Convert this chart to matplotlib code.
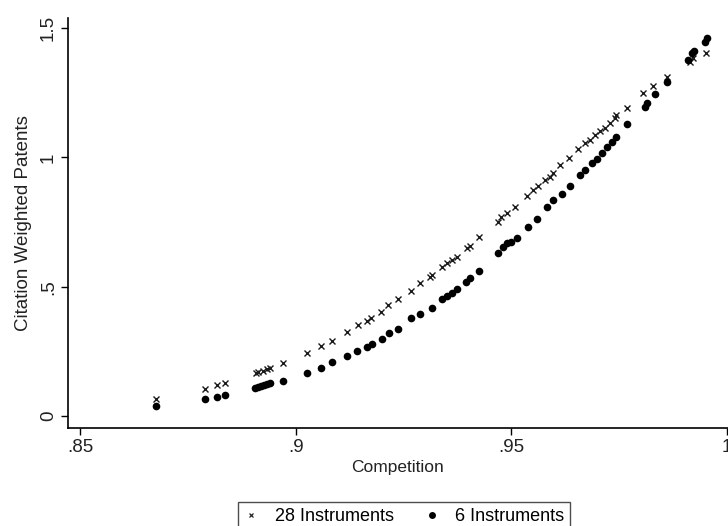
import matplotlib
matplotlib.use("Agg")
import matplotlib.pyplot as plt
from matplotlib.lines import Line2D

plt.rcParams['font.family'] = ['Liberation Sans', 'DejaVu Sans']

# competition index vs. predicted citation weighted patents
comp_28 = [0.8676, 0.8790, 0.8818, 0.8836, 0.8908, 0.8913, 0.8924, 0.8934, 0.8940,
           0.8971, 0.9026, 0.9059, 0.9084, 0.9119, 0.9144, 0.9165, 0.9175, 0.9198,
           0.9214, 0.9237, 0.9267, 0.9288, 0.9311, 0.9316, 0.9339, 0.9351, 0.9362,
           0.9374, 0.9397, 0.9404, 0.9425, 0.9469, 0.9476, 0.9490, 0.9508, 0.9536,
           0.9550, 0.9562, 0.9578, 0.9589, 0.9596, 0.9613, 0.9634, 0.9654, 0.9671,
           0.9682, 0.9694, 0.9705, 0.9717, 0.9729, 0.9740, 0.9742, 0.9768, 0.9805,
           0.9828, 0.9861, 0.9914, 0.9921, 0.9951]
cwp_28 = [0.066, 0.104, 0.120, 0.128, 0.166, 0.170, 0.174, 0.182, 0.186,
          0.205, 0.244, 0.271, 0.290, 0.325, 0.352, 0.367, 0.379, 0.402,
          0.429, 0.452, 0.483, 0.514, 0.537, 0.545, 0.576, 0.592, 0.603,
          0.615, 0.650, 0.657, 0.692, 0.750, 0.769, 0.785, 0.808, 0.851,
          0.874, 0.889, 0.912, 0.924, 0.939, 0.970, 0.997, 1.032, 1.055,
          1.067, 1.086, 1.102, 1.113, 1.133, 1.152, 1.164, 1.191, 1.249,
          1.276, 1.311, 1.369, 1.384, 1.403]

comp_6 = [0.8676, 0.8790, 0.8818, 0.8836, 0.8906, 0.8913, 0.8920, 0.8927, 0.8934,
          0.8940, 0.8971, 0.9026, 0.9059, 0.9084, 0.9119, 0.9142, 0.9165, 0.9177,
          0.9200, 0.9216, 0.9237, 0.9267, 0.9288, 0.9316, 0.9339, 0.9351, 0.9362,
          0.9374, 0.9395, 0.9404, 0.9425, 0.9469, 0.9481, 0.9490, 0.9499, 0.9513,
          0.9538, 0.9559, 0.9583, 0.9596, 0.9617, 0.9636, 0.9659, 0.9671, 0.9687,
          0.9698, 0.9710, 0.9722, 0.9733, 0.9742, 0.9768, 0.9810, 0.9814, 0.9833,
          0.9861, 0.9909, 0.9919, 0.9923, 0.9949, 0.9953]
cwp_6 = [0.039, 0.066, 0.073, 0.081, 0.108, 0.112, 0.116, 0.120, 0.124,
         0.128, 0.135, 0.166, 0.186, 0.209, 0.232, 0.251, 0.267, 0.278,
         0.298, 0.321, 0.336, 0.379, 0.394, 0.418, 0.452, 0.464, 0.476,
         0.491, 0.518, 0.534, 0.561, 0.630, 0.653, 0.669, 0.672, 0.688,
         0.731, 0.762, 0.808, 0.835, 0.858, 0.889, 0.932, 0.951, 0.978,
         0.994, 1.017, 1.040, 1.059, 1.079, 1.129, 1.195, 1.210, 1.245,
         1.291, 1.376, 1.403, 1.411, 1.446, 1.461]

xticks = [0.85, 0.90, 0.95, 1.0]
xtick_labels = ['.85', '.9', '.95', '1']
yticks = [0, 0.5, 1.0, 1.5]
ytick_labels = ['0', '.5', '1', '1.5']

fig = plt.figure(figsize=(7.28, 5.26), dpi=100)
ax = fig.add_axes([0.0934, 0.1863, 0.9066, 0.7795])

ax.plot(comp_28, cwp_28, linestyle='none', marker='x', markersize=4,
        markeredgewidth=1.0, color='#1a1a1a')
ax.plot(comp_6, cwp_6, linestyle='none', marker='o', markersize=5.5,
        color='black', markeredgewidth=0)

ax.set_xlim(0.8472, 1.0002)
ax.set_ylim(-0.046, 1.539)
ax.set_xticks(xticks)
ax.set_xticklabels(xtick_labels)
ax.set_yticks(yticks)
ax.set_yticklabels(ytick_labels, rotation=90, va='center')
ax.tick_params(axis='both', length=5, width=1, color='black', labelsize=13.5,
               labelcolor='#222222', pad=3)

for side in ['top', 'right']:
    ax.spines[side].set_visible(False)
for side in ['left', 'bottom']:
    ax.spines[side].set_linewidth(1.2)
    ax.spines[side].set_color('black')

ax.set_xlabel('Competition', fontsize=12.5, color='#222222', labelpad=3)
ax.set_ylabel('Citation Weighted Patents', fontsize=13.5, color='#222222', labelpad=6)

handles = [
    Line2D([], [], linestyle='none', marker='x', markersize=3, markeredgewidth=0.9,
           color='#222222'),
    Line2D([], [], linestyle='none', marker='o', markersize=5, color='black',
           markeredgewidth=0),
]
# legend box sits at the bottom edge; its lower border falls outside the figure
leg = fig.legend(handles, ['28 Instruments', '6 Instruments'], ncol=2,
                 loc='upper center', bbox_to_anchor=(0.555, 1 - 502 / 526),
                 borderaxespad=0, frameon=True, fancybox=False, fontsize=13,
                 handlelength=0.8, handletextpad=0.9, columnspacing=1.7,
                 borderpad=0.35)
leg.get_frame().set_edgecolor('#222222')
leg.get_frame().set_linewidth(1.0)

fig.savefig('out.png', dpi=100)
